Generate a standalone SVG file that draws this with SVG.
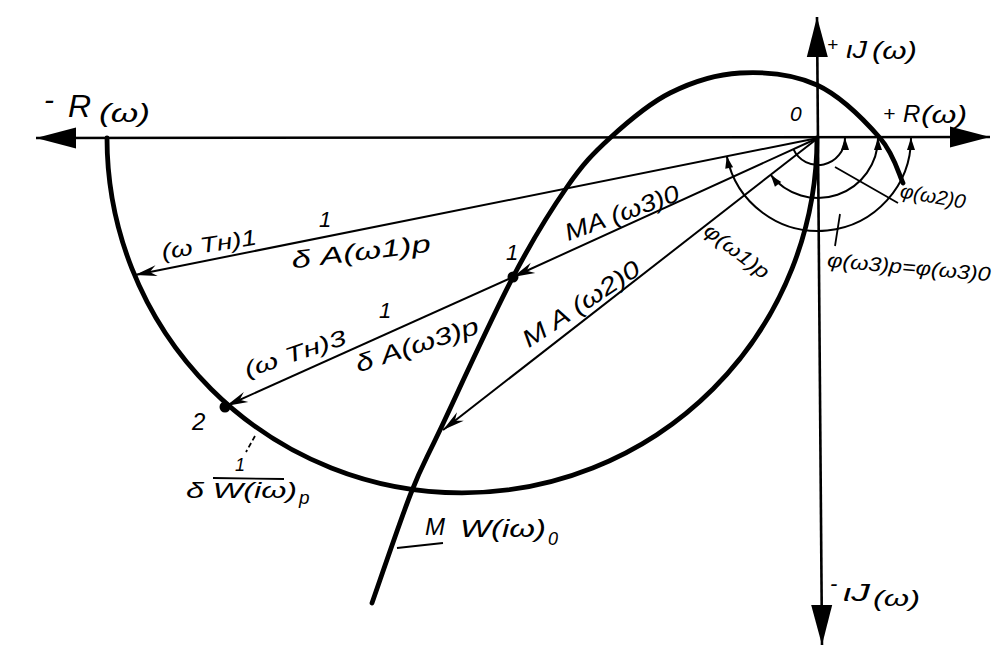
<svg xmlns="http://www.w3.org/2000/svg" width="1008" height="662" viewBox="0 0 1008 662">
<style>
.t{font-family:"Liberation Sans","DejaVu Sans",sans-serif;font-style:italic;fill:#000}
.axis{stroke:#000;stroke-width:2.6;fill:none}
.heavy{stroke:#000;stroke-width:4.8;fill:none;stroke-linecap:round}
.ray{stroke:#000;stroke-width:2;fill:none}
.arc{stroke:#000;stroke-width:2;fill:none}
.thin{stroke:#000;stroke-width:1.8;fill:none}
</style>
<defs>
<marker id="axArrow" viewBox="-42 -12 43 24" markerWidth="43" markerHeight="24" refX="0" refY="0" markerUnits="userSpaceOnUse" orient="auto-start-reverse">
<path d="M0,0 L-40,-10.5 L-40,10.5 Z" fill="#000"/>
</marker>
<marker id="rayArrow" viewBox="-25 -8 27 16" markerWidth="27" markerHeight="16" refX="0" refY="0" markerUnits="userSpaceOnUse" orient="auto">
<path d="M0,0 L-22,-5.5 L-15,0 L-22,5.5 Z" fill="#000"/>
</marker>
<marker id="angArrow" viewBox="-13 -5 14 10" markerWidth="14" markerHeight="10" refX="0" refY="0" markerUnits="userSpaceOnUse" orient="auto-start-reverse">
<path d="M0,0 L-12,-4 L-12,4 Z" fill="#000"/>
</marker>
</defs>
<rect x="0" y="0" width="1008" height="662" fill="#fff"/>

<g id="axes">
<line class="axis" x1="36" y1="138" x2="990" y2="137" marker-start="url(#axArrow)" marker-end="url(#axArrow)"/>
<line class="axis" x1="817" y1="17" x2="822" y2="645" marker-start="url(#axArrow)" marker-end="url(#axArrow)"/>
</g>

<g id="curves">
<path id="curve-delta-W" class="heavy" d="M107,138 A355,355 0 0 0 817,138"/>
<path id="curve-MW" class="heavy" d="M372,603 C378.5,584.7 399.7,521.8 411,493 C422.3,464.2 423,466 440,430 C457,394 491.8,317.5 513,277 C534.2,236.5 550.8,210.2 567,187 C583.2,163.8 592.8,153.7 610,138 C627.2,122.3 648.3,103.8 670,93 C691.7,82.2 715.5,74.3 740,73 C764.5,71.7 793.7,74.2 817,85 C840.3,95.8 865.7,121.7 880,138 C894.3,154.3 899.2,175.5 903,183"/>
</g>

<g id="connectors">
<line class="ray" x1="818" y1="138" x2="135" y2="275" marker-end="url(#rayArrow)"/>
<line class="ray" x1="818" y1="138" x2="513" y2="277" marker-end="url(#rayArrow)"/>
<line class="ray" x1="513" y1="277" x2="226" y2="406" marker-end="url(#rayArrow)"/>
<line class="ray" x1="818" y1="138" x2="443" y2="430" marker-end="url(#rayArrow)"/>
<path class="arc" d="M911,138 A93,93 0 0 1 726.8,156.2" marker-start="url(#angArrow)" marker-end="url(#angArrow)"/>
<path class="arc" d="M878,138 A60,60 0 0 1 770.7,174.9" marker-start="url(#angArrow)" marker-end="url(#angArrow)"/>
<path class="arc" d="M845,138 A27,27 0 0 1 793.4,149.2" marker-start="url(#angArrow)"/>
<line class="thin" x1="835" y1="167" x2="898" y2="203"/>
<line class="thin" x1="840" y1="214" x2="835" y2="246"/>
<line class="thin" x1="397" y1="548" x2="443" y2="543"/>
<line class="thin" x1="213" y1="478" x2="284" y2="479"/>
<line class="thin" x1="255" y1="436" x2="246" y2="452" stroke-dasharray="5,3"/>
</g>

<g id="point-1">
<circle cx="513" cy="277" r="5.5" fill="#000"/>
<text class="t" x="506" y="260" font-size="22">1</text>
</g>
<g id="point-2">
<circle cx="225" cy="407" r="5.5" fill="#000"/>
<text class="t" x="192" y="430" font-size="24">2</text>
</g>

<g id="labels">
<text class="t" x="44" y="110" font-size="30">-</text>
<text class="t" x="68" y="117" font-size="32">R</text>
<text class="t" x="99" y="122" font-size="26" textLength="51" lengthAdjust="spacingAndGlyphs">(ω)</text>

<text class="t" x="883" y="121" font-size="21">+</text>
<text class="t" x="903" y="122" font-size="24">R</text>
<text class="t" x="921" y="123" font-size="24" textLength="46" lengthAdjust="spacingAndGlyphs">(ω)</text>

<text class="t" x="827" y="51" font-size="19">+</text>
<text class="t" x="846" y="58" font-size="24" textLength="21" lengthAdjust="spacingAndGlyphs">ιJ</text>
<text class="t" x="872" y="59" font-size="24" textLength="45" lengthAdjust="spacingAndGlyphs">(ω)</text>

<text class="t" x="790" y="121" font-size="21">0</text>

<text class="t" x="830" y="591" font-size="22">-</text>
<text class="t" x="843" y="601" font-size="24" textLength="27" lengthAdjust="spacingAndGlyphs">ιJ</text>
<text class="t" x="873" y="606" font-size="22" textLength="47" lengthAdjust="spacingAndGlyphs">(ω)</text>

<text class="t" font-size="24" text-anchor="middle" y="8" transform="translate(622,213) rotate(-20)" textLength="120" lengthAdjust="spacingAndGlyphs">MA (ω3)0</text>
<text class="t" font-size="24" text-anchor="middle" y="8" transform="translate(581,304) rotate(-33.5)" textLength="136" lengthAdjust="spacingAndGlyphs">M A (ω2)0</text>

<text class="t" font-size="22" text-anchor="middle" y="8" transform="translate(209,244) rotate(-9)" textLength="96" lengthAdjust="spacingAndGlyphs">(ω Tн)1</text>
<text class="t" x="319" y="227" font-size="22">1</text>
<text class="t" font-size="24" text-anchor="middle" y="8" transform="translate(361,252) rotate(-7)" textLength="140" lengthAdjust="spacingAndGlyphs">δ A(ω1)p</text>

<text class="t" font-size="22" text-anchor="middle" y="8" transform="translate(295,353) rotate(-18.5)" textLength="106" lengthAdjust="spacingAndGlyphs">(ω Tн)3</text>
<text class="t" x="379" y="318" font-size="22">1</text>
<text class="t" font-size="24" text-anchor="middle" y="8" transform="translate(417,345) rotate(-18)" textLength="128" lengthAdjust="spacingAndGlyphs">δ A(ω3)p</text>

<text class="t" font-size="20" text-anchor="middle" y="7" transform="translate(737,251) rotate(37.6)" textLength="76" lengthAdjust="spacingAndGlyphs">φ(ω1)p</text>
<text class="t" font-size="20" text-anchor="middle" y="7" transform="translate(933,196) rotate(10)" textLength="66" lengthAdjust="spacingAndGlyphs">φ(ω2)0</text>
<text class="t" font-size="20" text-anchor="middle" y="7" transform="translate(909,267) rotate(5)" textLength="164" lengthAdjust="spacingAndGlyphs">φ(ω3)p=φ(ω3)0</text>

<text class="t" x="235" y="471" font-size="18">1</text>
<text class="t" x="186" y="498" font-size="22" textLength="111" lengthAdjust="spacingAndGlyphs">δ W(iω)</text>
<text class="t" x="299" y="504" font-size="19">p</text>

<text class="t" x="425" y="535" font-size="24">M</text>
<text class="t" x="460" y="537" font-size="24" textLength="86" lengthAdjust="spacingAndGlyphs">W(iω)</text>
<text class="t" x="548" y="545" font-size="18">0</text>
</g>
</svg>
